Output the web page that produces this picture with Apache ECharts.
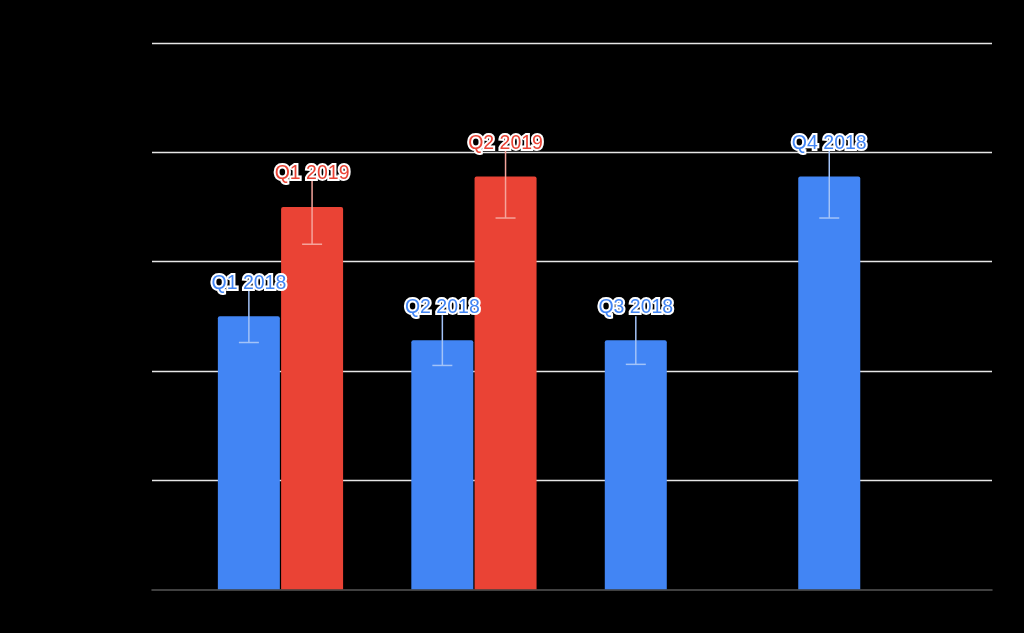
<!DOCTYPE html>
<html>
<head>
<meta charset="utf-8">
<script src="https://cdn.jsdelivr.net/npm/echarts@6/dist/echarts.min.js"></script>
<style>html,body{margin:0;padding:0;background:#000;}#chart{width:1024px;height:633px;}</style>
</head>
<body>
<div id="chart"></div>
<script>
var categories = ['Q1', 'Q2', 'Q3', 'Q4'];
var values2018 = [25.0, 22.8, 22.8, 37.8];
var values2019 = [35.0, 37.8, null, null];
var errors2018 = [2.4, 2.3, 2.2, 3.8];
var errors2019 = [3.4, 3.8, null, null];
var labels2018 = ['Q1 2018', 'Q2 2018', 'Q3 2018', 'Q4 2018'];
var labels2019 = ['Q1 2019', 'Q2 2019', null, null];
var yTicks = [0, 10, 20, 30, 40, 50];

var BLUE = '#4285F4', RED = '#EA4335';
var chart = echarts.init(document.getElementById('chart'));

function errData(vals, errs, labels) {
  var out = [];
  for (var i = 0; i < vals.length; i++) {
    if (vals[i] != null) out.push([i, vals[i], errs[i], labels[i]]);
  }
  return out;
}
function makeRender(offset, lineColor, textColor) {
  return function (params, api) {
    var x = api.value(0), v = api.value(1), e = api.value(2);
    var label = api.value(3);
    var top = api.coord([x, v]);
    var hi = api.coord([x, v + e]);
    var lo = api.coord([x, v - e]);
    var cx = top[0] + offset;
    return {
      type: 'group',
      children: [
        { type: 'line', shape: { x1: cx, y1: hi[1], x2: cx, y2: lo[1] }, style: { stroke: lineColor, lineWidth: 1.5 } },
        { type: 'line', shape: { x1: cx - 10, y1: lo[1], x2: cx + 10, y2: lo[1] }, style: { stroke: lineColor, lineWidth: 1.5 } },
        { type: 'text', z2: 10, style: { text: label, x: cx, y: top[1] - 33, fill: textColor, stroke: '#fff', lineWidth: 4, strokeFirst: true, font: '19.5px "Liberation Sans", Arial, sans-serif', align: 'center', verticalAlign: 'middle' } }
      ]
    };
  };
}

var option = {
  backgroundColor: '#000',
  animation: false,
  grid: [
    { left: 152, right: 32, top: 43.3, bottom: 43.7 },
    { left: 183.75, right: 66.4, top: 43.3, bottom: 43.7 }
  ],
  xAxis: [
    { gridIndex: 0, type: 'value', min: 0, max: 1, axisLabel: { show: false }, axisTick: { show: false }, splitLine: { show: false },
      axisLine: { show: true, lineStyle: { color: '#555', width: 1.5 } } },
    { gridIndex: 1, type: 'category', data: categories, axisLabel: { show: false }, axisTick: { show: false }, axisLine: { show: false } }
  ],
  yAxis: [
    { gridIndex: 0, type: 'value', min: yTicks[0], max: yTicks[yTicks.length - 1], interval: yTicks[1] - yTicks[0],
      axisLabel: { show: false }, axisLine: { show: false }, axisTick: { show: false },
      splitLine: { show: true, showMinLine: false, lineStyle: { color: '#e6e6e6', width: 1.3 } } },
    { gridIndex: 1, type: 'value', min: yTicks[0], max: yTicks[yTicks.length - 1], interval: yTicks[1] - yTicks[0],
      axisLabel: { show: false }, axisLine: { show: false }, axisTick: { show: false }, splitLine: { show: false } }
  ],
  series: [
    { name: '2018', type: 'bar', xAxisIndex: 1, yAxisIndex: 1, data: values2018, barWidth: 62, barGap: '2%', z: 2,
      itemStyle: { color: BLUE, borderRadius: [2, 2, 0, 0] } },
    { name: '2019', type: 'bar', xAxisIndex: 1, yAxisIndex: 1, data: values2019, barWidth: 62, barGap: '2%', z: 2,
      itemStyle: { color: RED, borderRadius: [2, 2, 0, 0] } },
    { type: 'custom', xAxisIndex: 1, yAxisIndex: 1, z: 5, data: errData(values2018, errors2018, labels2018),
      renderItem: makeRender(-31.6, '#a3c3f8', BLUE) },
    { type: 'custom', xAxisIndex: 1, yAxisIndex: 1, z: 5, data: errData(values2019, errors2019, labels2019),
      renderItem: makeRender(31.6, '#f5a49b', RED) }
  ]
};
chart.setOption(option);
</script>
</body>
</html>
